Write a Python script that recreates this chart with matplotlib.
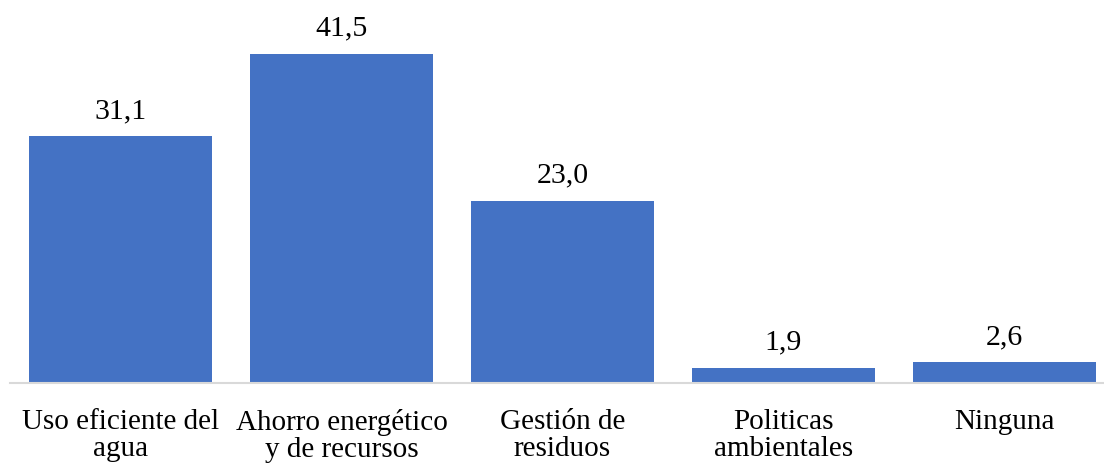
import numpy as np
import matplotlib.pyplot as plt

plt.rcParams['font.family'] = ['Liberation Serif', 'DejaVu Serif']

# Data
categories = ['Uso eficiente del\nagua', 'Ahorro energético\ny de recursos',
              'Gestión de\nresiduos', 'Politicas\nambientales', 'Ninguna']
values = [31.1, 41.5, 23.0, 1.9, 2.6]
value_labels = ['31,1', '41,5', '23,0', '1,9', '2,6']

fig = plt.figure(figsize=(11.04, 4.65), dpi=100)
# axes runs past the right edge, as in the cropped original
ax = fig.add_axes([10 / 1104, 82 / 465, 1105 / 1104, 357 / 465])

x = np.arange(len(categories))
bars = ax.bar(x, values, width=0.83, color='#4472C4')

for xi, v, lab in zip(x, values, value_labels):
    ax.annotate(lab, (xi, v), xytext=(0, 13), textcoords='offset points',
                ha='center', va='baseline', fontsize=21.5)

ax.set_xlim(-0.5, len(categories) - 0.5)
ax.set_ylim(0, 45)
ax.set_xticks(x)
ax.set_xticklabels(categories, fontsize=21, linespacing=1.05)
ax.tick_params(axis='x', length=0, pad=19)
ax.set_yticks([])

for side in ['top', 'right', 'left']:
    ax.spines[side].set_visible(False)
ax.spines['bottom'].set_color('#D9D9D9')
ax.spines['bottom'].set_linewidth(1.5)

fig.savefig('out.png', dpi=100)
